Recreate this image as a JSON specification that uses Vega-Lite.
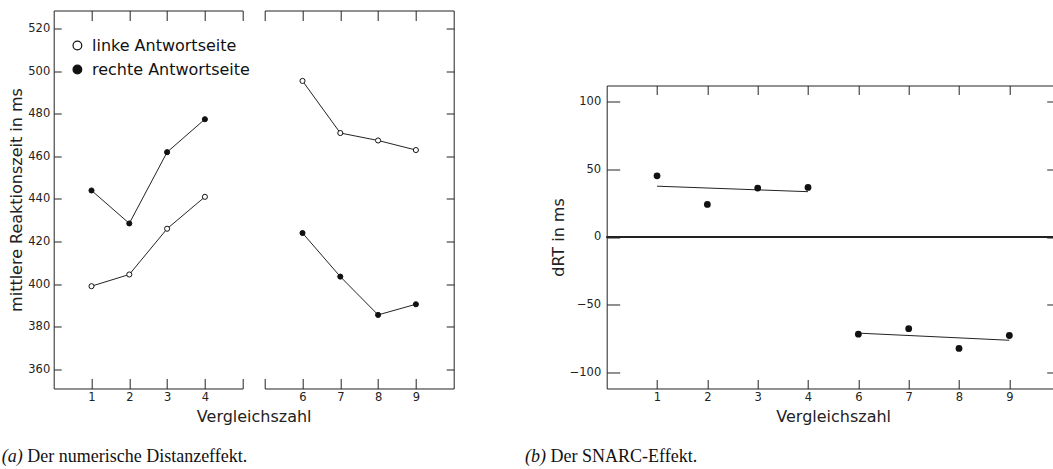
{
  "$schema": "https://vega.github.io/schema/vega-lite/v6.json",
  "background": "white",
  "padding": {"left": 1.7, "top": 9.5, "right": 0, "bottom": 0},
  "config": {
    "view": {"stroke": null},
    "axis": {
      "grid": false,
      "domainColor": "#222",
      "domainWidth": 1,
      "tickColor": "#222",
      "tickWidth": 1,
      "labelFont": "DejaVu Sans",
      "labelFontSize": 11.5,
      "labelColor": "#222",
      "titleFont": "DejaVu Sans",
      "titleFontSize": 16,
      "titleFontWeight": "normal",
      "titleColor": "#222"
    },
    "legend": {"labelFont": "DejaVu Sans", "labelFontSize": 16, "labelColor": "#111"},
    "title": {
      "font": "Liberation Serif",
      "fontSize": 18,
      "fontWeight": "normal",
      "color": "#111",
      "orient": "bottom",
      "anchor": "start",
      "baseline": "top"
    }
  },
  "datasets": {
    "rt": [
      {"Vergleichszahl": 1, "Seite": "linke Antwortseite", "RT": 399},
      {"Vergleichszahl": 2, "Seite": "linke Antwortseite", "RT": 404.5},
      {"Vergleichszahl": 3, "Seite": "linke Antwortseite", "RT": 426},
      {"Vergleichszahl": 4, "Seite": "linke Antwortseite", "RT": 441},
      {"Vergleichszahl": 6, "Seite": "linke Antwortseite", "RT": 495.5},
      {"Vergleichszahl": 7, "Seite": "linke Antwortseite", "RT": 471},
      {"Vergleichszahl": 8, "Seite": "linke Antwortseite", "RT": 467.5},
      {"Vergleichszahl": 9, "Seite": "linke Antwortseite", "RT": 463},
      {"Vergleichszahl": 1, "Seite": "rechte Antwortseite", "RT": 444},
      {"Vergleichszahl": 2, "Seite": "rechte Antwortseite", "RT": 428.5},
      {"Vergleichszahl": 3, "Seite": "rechte Antwortseite", "RT": 462},
      {"Vergleichszahl": 4, "Seite": "rechte Antwortseite", "RT": 477.5},
      {"Vergleichszahl": 6, "Seite": "rechte Antwortseite", "RT": 424},
      {"Vergleichszahl": 7, "Seite": "rechte Antwortseite", "RT": 403.5},
      {"Vergleichszahl": 8, "Seite": "rechte Antwortseite", "RT": 385.5},
      {"Vergleichszahl": 9, "Seite": "rechte Antwortseite", "RT": 390.5}
    ],
    "snarc": [
      {"Vergleichszahl": 1, "Bereich": "1-4", "dRT": 45},
      {"Vergleichszahl": 2, "Bereich": "1-4", "dRT": 24},
      {"Vergleichszahl": 3, "Bereich": "1-4", "dRT": 36},
      {"Vergleichszahl": 4, "Bereich": "1-4", "dRT": 36.5},
      {"Vergleichszahl": 6, "Bereich": "6-9", "dRT": -71.5},
      {"Vergleichszahl": 7, "Bereich": "6-9", "dRT": -67.5},
      {"Vergleichszahl": 8, "Bereich": "6-9", "dRT": -82},
      {"Vergleichszahl": 9, "Bereich": "6-9", "dRT": -72.5}
    ]
  },
  "resolve": {"scale": {"x": "independent", "y": "independent", "fill": "independent"}},
  "spacing": 70,
  "hconcat": [
    {
      "title": {"text": "Der numerische Distanzeffekt.", "dx": 25.5, "dy": -18, "offset": 0},
      "hconcat": [
        {
          "title": {"text": "(a)", "fontStyle": "italic", "dx": -6.9, "offset": 23.5},
          "bounds": "flush",
          "spacing": 22,
          "hconcat": [
            {
              "width": 189,
              "height": 378,
              "data": {"name": "rt"},
              "transform": [{"filter": "datum.Vergleichszahl <= 4"}],
              "layer": [
                {
                  "mark": {"type": "line", "color": "#222", "strokeWidth": 1},
                  "encoding": {
                    "x": {
                      "field": "Vergleichszahl", "type": "quantitative",
                      "scale": {"domain": [0, 5], "nice": false, "zero": false},
                      "axis": {
                        "orient": "bottom", "values": [1, 2, 3, 4, 5], "tickSize": -10,
                        "labelExpr": "datum.value == 5 ? '' : datum.label",
                        "labelPadding": 13.3,
                        "title": "Vergleichszahl", "titleX": 200, "titleY": 20.4,
                        "titleAlign": "center", "titleBaseline": "top"
                      }
                    },
                    "y": {
                      "field": "RT", "type": "quantitative",
                      "scale": {"domain": [350.9, 528.6], "nice": false, "zero": false},
                      "axis": {
                        "orient": "left", "values": [360, 380, 400, 420, 440, 460, 480, 500, 520],
                        "tickSize": -7.5, "labelPadding": 11.5,
                        "title": "mittlere Reaktionszeit in ms", "titlePadding": 3
                      }
                    },
                    "detail": {"field": "Seite"}
                  }
                },
                {
                  "mark": {"type": "circle", "size": 26, "stroke": "#111", "strokeWidth": 1, "opacity": 1},
                  "encoding": {
                    "x": {
                      "field": "Vergleichszahl", "type": "quantitative",
                      "scale": {"domain": [0, 5], "nice": false, "zero": false},
                      "axis": {"orient": "top", "values": [1, 2, 3, 4, 5], "tickSize": -10, "labels": false, "title": null}
                    },
                    "y": {
                      "field": "RT", "type": "quantitative",
                      "scale": {"domain": [350.9, 528.6], "nice": false, "zero": false},
                      "axis": null
                    },
                    "fill": {
                      "field": "Seite", "type": "nominal",
                      "scale": {"domain": ["linke Antwortseite", "rechte Antwortseite"], "range": ["white", "#111"]},
                      "legend": {
                        "orient": "none", "legendX": 15.7, "legendY": 27, "title": null,
                        "symbolType": "circle", "symbolSize": 76,
                        "symbolStrokeColor": "#111", "symbolStrokeWidth": 1.2,
                        "labelOffset": 6.6, "rowPadding": 8, "padding": 0
                      }
                    }
                  }
                }
              ],
              "resolve": {"axis": {"x": "independent", "y": "independent"}}
            },
            {
              "width": 189,
              "height": 378,
              "data": {"name": "rt"},
              "transform": [{"filter": "datum.Vergleichszahl >= 6"}],
              "layer": [
                {
                  "mark": {"type": "line", "color": "#222", "strokeWidth": 1},
                  "encoding": {
                    "x": {
                      "field": "Vergleichszahl", "type": "quantitative",
                      "scale": {"domain": [5, 10], "nice": false, "zero": false},
                      "axis": {
                        "orient": "bottom", "values": [5, 6, 7, 8, 9], "tickSize": -10,
                        "labelExpr": "datum.value == 5 ? '' : datum.label",
                        "labelPadding": 13.3, "title": null
                      }
                    },
                    "y": {
                      "field": "RT", "type": "quantitative",
                      "scale": {"domain": [350.9, 528.6], "nice": false, "zero": false},
                      "axis": {
                        "orient": "right", "values": [360, 380, 400, 420, 440, 460, 480, 500, 520],
                        "tickSize": -7.5, "labels": false, "title": null
                      }
                    },
                    "detail": {"field": "Seite"}
                  }
                },
                {
                  "mark": {"type": "circle", "size": 26, "stroke": "#111", "strokeWidth": 1, "opacity": 1},
                  "encoding": {
                    "x": {
                      "field": "Vergleichszahl", "type": "quantitative",
                      "scale": {"domain": [5, 10], "nice": false, "zero": false},
                      "axis": {"orient": "top", "values": [5, 6, 7, 8, 9], "tickSize": -10, "labels": false, "title": null}
                    },
                    "y": {
                      "field": "RT", "type": "quantitative",
                      "scale": {"domain": [350.9, 528.6], "nice": false, "zero": false},
                      "axis": null
                    },
                    "fill": {
                      "field": "Seite", "type": "nominal",
                      "scale": {"domain": ["linke Antwortseite", "rechte Antwortseite"], "range": ["white", "#111"]},
                      "legend": null
                    }
                  }
                }
              ],
              "resolve": {"axis": {"x": "independent", "y": "independent"}}
            }
          ]
        }
      ]
    },
    {
      "title": {"text": "Der SNARC-Effekt.", "dx": 25.5, "dy": -18, "offset": 0},
      "hconcat": [
        {
          "title": {"text": "(b)", "fontStyle": "italic", "dx": -25, "offset": 23.5},
          "width": 453,
          "height": 378,
          "data": {"name": "snarc"},
          "layer": [
            {
              "mark": {"type": "rule", "color": "#222", "strokeWidth": 1},
              "encoding": {
                "y": {
                  "datum": 0, "type": "quantitative",
                  "scale": {"domain": [-111.5, 111.5], "range": [378, 75], "nice": false, "zero": false},
                  "axis": null
                }
              }
            },
            {
              "transform": [{"regression": "dRT", "on": "Vergleichszahl", "groupby": ["Bereich"]}],
              "mark": {"type": "line", "color": "#222", "strokeWidth": 1},
              "encoding": {
                "x": {
                  "field": "Vergleichszahl", "type": "quantitative",
                  "scale": {"domain": [0, 4, 6, 10], "range": [0, 201.33, 251.67, 453], "nice": false, "zero": false},
                  "axis": {
                    "orient": "top", "values": [1, 2, 3, 4, 6, 7, 8, 9], "tickSize": -9,
                    "labels": false, "title": null, "offset": -75
                  }
                },
                "y": {
                  "field": "dRT", "type": "quantitative",
                  "scale": {"domain": [-111.5, 111.5], "range": [378, 75], "nice": false, "zero": false},
                  "axis": {
                    "orient": "right", "values": [-100, -50, 0, 50, 100], "tickSize": -13,
                    "labels": false, "title": null
                  }
                },
                "detail": {"field": "Bereich"}
              }
            },
            {
              "mark": {"type": "circle", "size": 46, "color": "#111", "opacity": 1},
              "encoding": {
                "x": {
                  "field": "Vergleichszahl", "type": "quantitative",
                  "scale": {"domain": [0, 4, 6, 10], "range": [0, 201.33, 251.67, 453], "nice": false, "zero": false},
                  "axis": {
                    "orient": "bottom", "values": [1, 2, 3, 4, 6, 7, 8, 9], "tickSize": -9,
                    "labelPadding": 12.3, "title": "Vergleichszahl", "titlePadding": 5
                  }
                },
                "y": {
                  "field": "dRT", "type": "quantitative",
                  "scale": {"domain": [-111.5, 111.5], "range": [378, 75], "nice": false, "zero": false},
                  "axis": {
                    "orient": "left", "values": [-100, -50, 0, 50, 100], "tickSize": -13,
                    "labelPadding": 19, "title": "dRT in ms", "titlePadding": 3
                  }
                }
              }
            }
          ],
          "resolve": {"axis": {"x": "independent", "y": "independent"}}
        }
      ]
    }
  ]
}
